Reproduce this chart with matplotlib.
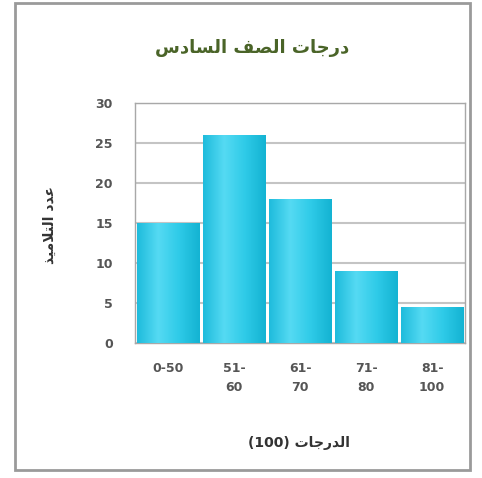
import matplotlib
matplotlib.use("Agg")
import matplotlib.pyplot as plt
import numpy as np
from matplotlib.patches import Rectangle

# chart data
categories = ["0-50", "51-\n60", "61-\n70", "71-\n80", "81-\n100"]
counts = [15, 26, 18, 9, 4.5]
y_ticks = [0, 5, 10, 15, 20, 25, 30]

title_txt = "درجات الصف السادس"
xlabel_word = "الدرجات"
xlabel_num = "(100)"
ylabel_txt = "عدد التلاميذ"

# matplotlib does no arabic shaping, so map letters to presentation forms
# (isolated, final, initial, medial); None = letter does not join forward
FORMS = {
    "ا": ("\ufe8d", "\ufe8e", None, None),
    "ب": ("\ufe8f", "\ufe90", "\ufe91", "\ufe92"),
    "ت": ("\ufe95", "\ufe96", "\ufe97", "\ufe98"),
    "ج": ("\ufe9d", "\ufe9e", "\ufe9f", "\ufea0"),
    "د": ("\ufea9", "\ufeaa", None, None),
    "ذ": ("\ufeab", "\ufeac", None, None),
    "ر": ("\ufead", "\ufeae", None, None),
    "س": ("\ufeb1", "\ufeb2", "\ufeb3", "\ufeb4"),
    "ص": ("\ufeb9", "\ufeba", "\ufebb", "\ufebc"),
    "ع": ("\ufec9", "\ufeca", "\ufecb", "\ufecc"),
    "ف": ("\ufed1", "\ufed2", "\ufed3", "\ufed4"),
    "ل": ("\ufedd", "\ufede", "\ufedf", "\ufee0"),
    "م": ("\ufee1", "\ufee2", "\ufee3", "\ufee4"),
    "ي": ("\ufef1", "\ufef2", "\ufef3", "\ufef4"),
}


def shape(word):
    # lam-alef ligature first
    chars = []
    i = 0
    while i < len(word):
        if word[i] == "ل" and i + 1 < len(word) and word[i + 1] == "ا":
            chars.append("LA")
            i += 2
        else:
            chars.append(word[i])
            i += 1
    out = []
    for k, c in enumerate(chars):
        prev = chars[k - 1] if k > 0 else None
        nxt = chars[k + 1] if k + 1 < len(chars) else None
        prev_joins = prev is not None and prev in FORMS and FORMS[prev][2] is not None
        if c == "LA":
            out.append("\ufefc" if prev_joins else "\ufefb")
            continue
        if c not in FORMS:
            out.append(c)
            continue
        f = FORMS[c]
        next_joins = f[2] is not None and nxt is not None and (nxt in FORMS or nxt == "LA")
        if prev_joins and next_joins:
            out.append(f[3])
        elif prev_joins:
            out.append(f[1])
        elif next_joins:
            out.append(f[2])
        else:
            out.append(f[0])
    return "".join(out)


def visual(text):
    return " ".join(shape(w)[::-1] for w in text.split(" ")[::-1])


plt.rcParams["font.family"] = ["DejaVu Sans"]

fig = plt.figure(figsize=(4.82, 4.78), dpi=100)
ax = fig.add_axes([0.280, 0.2824, 0.685, 0.502])

x = np.arange(len(categories))
bars = ax.bar(x, counts, width=0.94, color="#2cc6e4", zorder=2)

# horizontal cyan gradient inside each bar
cmap = matplotlib.colors.LinearSegmentedColormap.from_list(
    "cy", ["#1fbcdc", "#55daf3", "#2fcbe8", "#14b3d3"])
grad = np.linspace(0, 1, 64).reshape(1, -1)
for b in bars:
    bx, bw, bh = b.get_x(), b.get_width(), b.get_height()
    im = ax.imshow(grad, cmap=cmap, aspect="auto", zorder=3,
                   extent=(bx, bx + bw, 0, bh))
    im.set_clip_path(b)

ax.set_xlim(-0.5, len(categories) - 0.5)
ax.set_ylim(0, 30)
ax.set_yticks(y_ticks)
ax.set_xticks(x)
ax.set_xticklabels(categories, fontsize=9, fontweight="bold", color="#555555",
                   linespacing=1.6)
for t in ax.get_yticklabels():
    t.set_fontweight("bold")
ax.tick_params(axis="y", length=0, pad=16, labelsize=9, labelcolor="#555555")
ax.tick_params(axis="x", length=0, pad=14)
ax.yaxis.grid(True, color="#c4c4c4", linewidth=1.5, zorder=0)
ax.set_axisbelow(True)
for s in ax.spines.values():
    s.set_color("#a8a8a8")
    s.set_linewidth(1.0)

fig.text(252 / 482, 1 - 48 / 478, visual(title_txt), ha="center", va="center",
         fontsize=13, fontweight="bold", color="#4a6428")
fig.text(299 / 482, 1 - 443 / 478, xlabel_num + " " + visual(xlabel_word),
         ha="center", va="center", fontsize=10, fontweight="bold", color="#333333")
fig.text(50 / 482, 1 - 225 / 478, visual(ylabel_txt), ha="center", va="center",
         rotation=90, fontsize=10, fontweight="bold", color="#333333")

# outer frame around the whole picture
fig.patches.append(Rectangle((15 / 482, 1 - 470 / 478), 455 / 482, 467 / 478,
                             transform=fig.transFigure, fill=False,
                             edgecolor="#9a9a9a", linewidth=2))

fig.savefig("out.png", dpi=100, facecolor="white")
